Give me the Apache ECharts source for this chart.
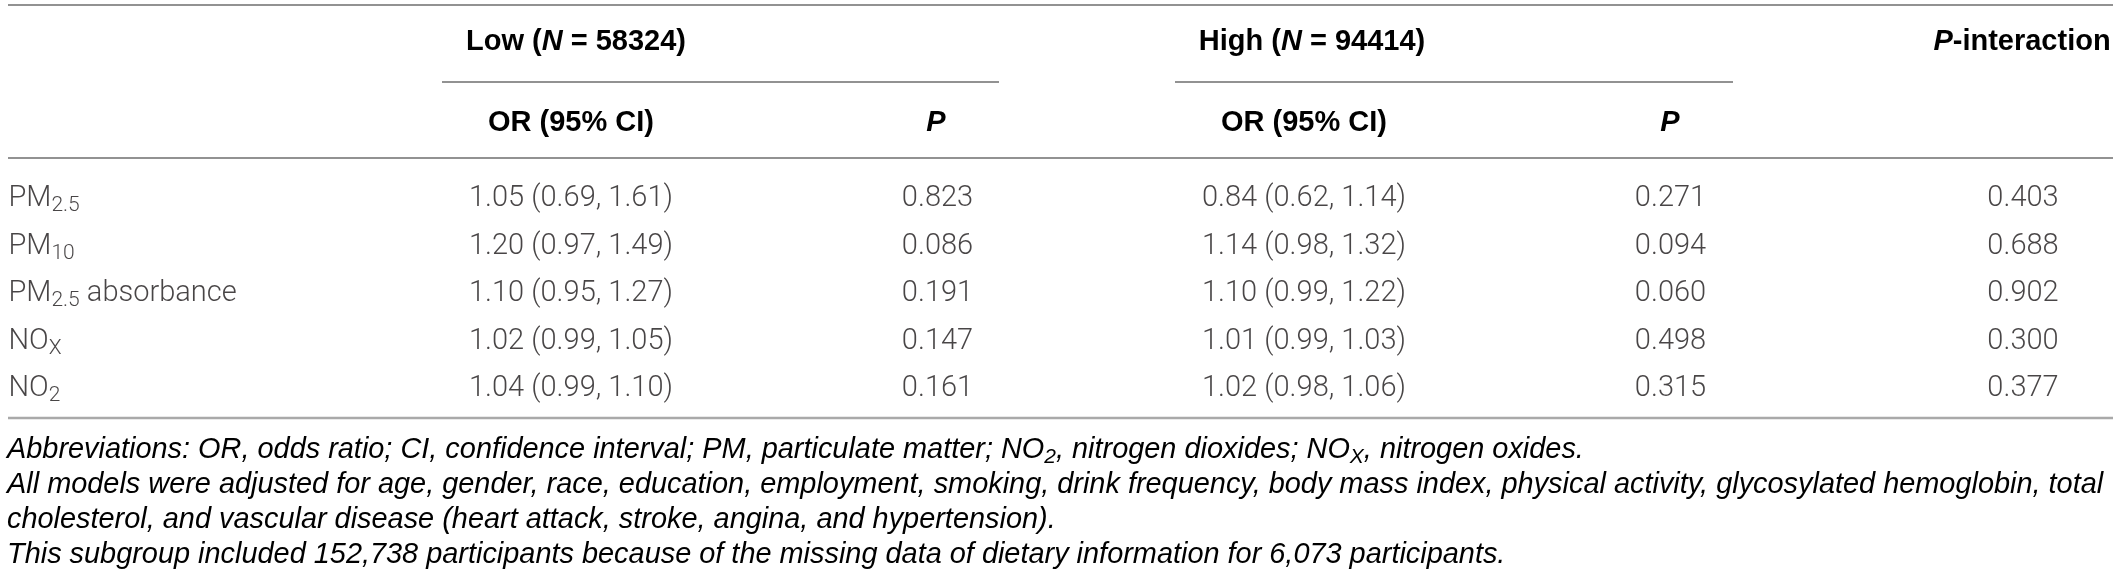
<!DOCTYPE html>
<html>
<head>
<meta charset="utf-8">
<script src="https://cdn.jsdelivr.net/npm/echarts@6/dist/echarts.min.js"></script>
<style>
  html, body { margin: 0; padding: 0; background: #fff; }
  #main { width: 2120px; height: 579px; }
</style>
</head>
<body>
<div id="main"></div>
<script>
// table data
const pollutantName = ['PM', 'PM', 'PM', 'NO', 'NO'];
const pollutantSub = ['2.5', '10', '2.5', 'X', '2'];
const pollutantTail = ['', '', ' absorbance', '', ''];

const lowOR = [1.05, 1.20, 1.10, 1.02, 1.04];
const lowLower = [0.69, 0.97, 0.95, 0.99, 0.99];
const lowUpper = [1.61, 1.49, 1.27, 1.05, 1.10];
const lowP = [0.823, 0.086, 0.191, 0.147, 0.161];

const highOR = [0.84, 1.14, 1.10, 1.01, 1.02];
const highLower = [0.62, 0.98, 0.99, 0.99, 0.98];
const highUpper = [1.14, 1.32, 1.22, 1.03, 1.06];
const highP = [0.271, 0.094, 0.060, 0.498, 0.315];

const pInteraction = [0.403, 0.688, 0.902, 0.300, 0.377];

const columns = ['exposure', 'lowOR', 'lowP', 'highOR', 'highP', 'pInteraction'];
const rows = ['r1', 'r2', 'r3', 'r4', 'r5'];

const lowN = 58324;
const highN = 94414;

const footnotes = [
  '{i|Abbreviations: OR, odds ratio; CI, confidence interval; PM, particulate matter; NO}{s|2}{i|, nitrogen dioxides; NO}{s|X}{i|, nitrogen oxides.}',
  '{i|All models were adjusted for age, gender, race, education, employment, smoking, drink frequency, body mass index, physical activity, glycosylated hemoglobin, total}',
  '{i|cholesterol, and vascular disease (heart attack, stroke, angina, and hypertension).}',
  '{i|This subgroup included 152,738 participants because of the missing data of dietary information for 6,073 participants.}'
];

const ci = (or, lo, hi, i) => or[i].toFixed(2) + ' (' + lo[i].toFixed(2) + ', ' + hi[i].toFixed(2) + ')';
const cellText = [
  i => '{b|' + pollutantName[i] + '}{s|' + pollutantSub[i] + '}' + (pollutantTail[i] ? '{b|' + pollutantTail[i] + '}' : ''),
  i => ci(lowOR, lowLower, lowUpper, i),
  i => lowP[i].toFixed(3),
  i => ci(highOR, highLower, highUpper, i),
  i => highP[i].toFixed(3),
  i => pInteraction[i].toFixed(3)
];

// styles
const BODY_FONT = 'Roboto';
const HEAD_FONT = 'Liberation Sans';
const FOOT_FONT = 'Liberation Sans';
const TEXT_COLOR = '#1a1718';
const BODY_SIZE = 29;
const SUB_SIZE = 21;
const HEAD_SIZE = 29;
const FOOT_SIZE = 28.9;
const LINE_COLOR = '#6e6e6e';

const bodyRich = {
  b: { fontFamily: BODY_FONT, fontWeight: 300, fontSize: BODY_SIZE, color: TEXT_COLOR, lineHeight: 36 },
  s: { fontFamily: BODY_FONT, fontWeight: 300, fontSize: SUB_SIZE, color: TEXT_COLOR, lineHeight: 21, padding: [14, 0, 0, 0] }
};

const series = columns.map((col, c) => ({
  type: 'scatter',
  name: col,
  symbolSize: 1,
  itemStyle: { color: 'rgba(0,0,0,0)' },
  silent: true,
  data: rows.map((r, i) => [c, i]),
  label: {
    show: true,
    position: 'inside',
    align: c === 0 ? 'left' : 'center',
    verticalAlign: 'middle',
    offset: c === 0 ? [-196, 0] : (c === 5 ? [-14, 0] : [0, 0]),
    fontFamily: BODY_FONT,
    fontWeight: 300,
    fontSize: BODY_SIZE,
    color: TEXT_COLOR,
    rich: bodyRich,
    formatter: p => c === 0 ? cellText[0](p.data[1]) : '{b|' + cellText[c](p.data[1]) + '}'
  }
}));

const headRich = {
  h: { fontFamily: HEAD_FONT, fontWeight: 'bold', fontSize: HEAD_SIZE, color: TEXT_COLOR },
  hi: { fontFamily: HEAD_FONT, fontWeight: 'bold', fontStyle: 'italic', fontSize: HEAD_SIZE, color: TEXT_COLOR }
};
const headText = (x, y, text) => ({
  type: 'text', x: x, y: y, silent: true,
  style: { text: text, rich: headRich, align: 'center', verticalAlign: 'middle' }
});
const rule = (x1, x2, y, w, color) => ({
  type: 'line', silent: true,
  shape: { x1: x1, y1: y, x2: x2, y2: y },
  style: { stroke: color || LINE_COLOR, lineWidth: w || 1.5 }
});

const footRich = {
  i: { fontFamily: FOOT_FONT, fontStyle: 'italic', fontSize: FOOT_SIZE, color: '#2b2b2b', lineHeight: 34 },
  s: { fontFamily: FOOT_FONT, fontStyle: 'italic', fontSize: SUB_SIZE, color: '#2b2b2b', lineHeight: 21, padding: [14, 0, 0, 0] }
};

const graphic = [
  rule(8, 2113, 5),
  rule(442, 999, 82),
  rule(1175, 1733, 82),
  rule(8, 2113, 158),
  rule(8, 2113, 418, 2.5, '#a9a9a9'),
  headText(576, 42, '{h|Low (}{hi|N}{h| = ' + lowN + ')}'),
  headText(1312, 42, '{h|High (}{hi|N}{h| = ' + highN + ')}'),
  headText(2022, 42, '{hi|P}{h|-interaction}'),
  headText(571, 123, '{h|OR (95% CI)}'),
  headText(936, 123, '{hi|P}'),
  headText(1304, 123, '{h|OR (95% CI)}'),
  headText(1670, 123, '{hi|P}')
].concat(footnotes.map((t, k) => ({
  type: 'text', x: 7, y: 450 + k * 35, silent: true,
  style: { text: t, rich: footRich, align: 'left', verticalAlign: 'middle' }
})));

const myChart = echarts.init(document.getElementById('main'));
const option = {
  animation: false,
  backgroundColor: '#fff',
  grid: {
    left: 21.25, width: 2199, top: 175.25, height: 237.5,
    containLabel: false, outerBoundsMode: 'none'
  },
  xAxis: {
    type: 'category', data: columns, show: false,
    axisLine: { show: false }, axisTick: { show: false }, axisLabel: { show: false }
  },
  yAxis: {
    type: 'category', data: rows, inverse: true, show: false,
    axisLine: { show: false }, axisTick: { show: false }, axisLabel: { show: false }
  },
  series: series,
  graphic: graphic
};
myChart.setOption(option);
</script>
</body>
</html>
